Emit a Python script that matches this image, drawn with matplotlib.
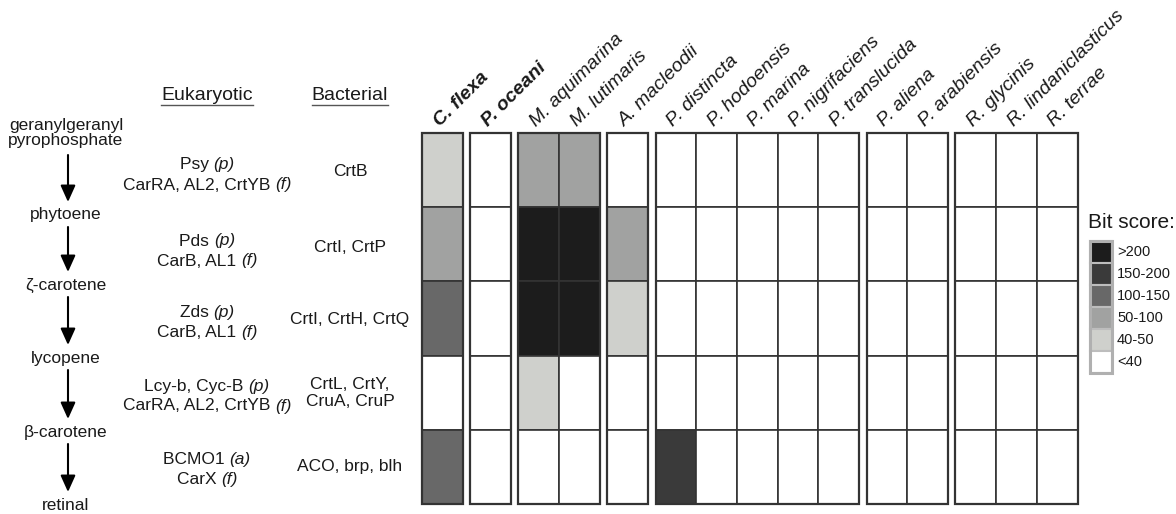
import matplotlib
matplotlib.use("Agg")
import matplotlib.pyplot as plt
from matplotlib.patches import Rectangle

plt.rcParams['font.family'] = ['Liberation Sans', 'DejaVu Sans']

# pathway compounds (top to bottom)
compounds = ["geranylgeranyl\npyrophosphate", "phytoene", "ζ-carotene",
             "lycopene", "β-carotene", "retinal"]

# enzymes for each step: (plain part, italic part)
euk_top = [("Psy ", "(p)"), ("Pds ", "(p)"), ("Zds ", "(p)"),
           ("Lcy-b, Cyc-B ", "(p)"), ("BCMO1 ", "(a)")]
euk_bottom = [("CarRA, AL2, CrtYB ", "(f)"), ("CarB, AL1 ", "(f)"),
              ("CarB, AL1 ", "(f)"), ("CarRA, AL2, CrtYB ", "(f)"),
              ("CarX ", "(f)")]
bacterial = ["CrtB", "CrtI, CrtP", "CrtI, CrtH, CrtQ", "CrtL, CrtY,\nCruA, CruP",
             "ACO, brp, blh"]

# species, grouped
species = ["C. flexa", "P. oceani", "M. aquimarina", "M. lutimaris", "A. macleodii",
           "P. distincta", "P. hodoensis", "P. marina", "P. nigrifaciens", "P. translucida",
           "P. aliena", "P. arabiensis", "R. glycinis", "R. lindaniclasticus", "R. terrae"]
group_sizes = [1, 1, 2, 1, 5, 2, 3]
bold_species = ["C. flexa", "P. oceani"]

# bit score bins (legend order) and colours
score_bins = [">200", "150-200", "100-150", "50-100", "40-50", "<40"]
bin_colors = ["#1c1c1c", "#3a3a3a", "#686868", "#a1a2a1", "#cfd0cc", "#ffffff"]

# bin index per species for each of the 5 steps
scores = {
    "C. flexa":            [4, 3, 2, 5, 2],
    "P. oceani":           [5, 5, 5, 5, 5],
    "M. aquimarina":       [3, 0, 0, 4, 5],
    "M. lutimaris":        [3, 0, 0, 5, 5],
    "A. macleodii":        [5, 3, 4, 5, 5],
    "P. distincta":        [5, 5, 5, 5, 1],
    "P. hodoensis":        [5, 5, 5, 5, 5],
    "P. marina":           [5, 5, 5, 5, 5],
    "P. nigrifaciens":     [5, 5, 5, 5, 5],
    "P. translucida":      [5, 5, 5, 5, 5],
    "P. aliena":           [5, 5, 5, 5, 5],
    "P. arabiensis":       [5, 5, 5, 5, 5],
    "R. glycinis":         [5, 5, 5, 5, 5],
    "R. lindaniclasticus": [5, 5, 5, 5, 5],
    "R. terrae":           [5, 5, 5, 5, 5],
}

# layout (pixels)
W, H = 1176, 514
grid_x0, grid_y0 = 422, 133
cell_w, cell_h, gap = 40.7, 74.2, 7.5
txt = "#1a1a1a"

fig = plt.figure(figsize=(W / 100, H / 100), dpi=100)
ax = fig.add_axes([0, 0, 1, 1])
ax.set_xlim(0, W)
ax.set_ylim(H, 0)
ax.axis("off")
renderer = fig.canvas.get_renderer()
inv = ax.transData.inverted()


def text_width(s, **kw):
    t = ax.text(0, 0, s, **kw)
    bb = t.get_window_extent(renderer)
    t.remove()
    return bb.width


def mixed_line(xc, y, plain, ital, size=12.5):
    # centred line with a plain part followed by an italic part
    w1 = text_width(plain + "|", fontsize=size) - text_width("|", fontsize=size)
    w2 = text_width(ital, fontsize=size, style="italic")
    x0 = xc - (w1 + w2) / 2
    ax.text(x0, y, plain, ha="left", va="center", fontsize=size, color=txt)
    ax.text(x0 + w1, y, ital, ha="left", va="center", fontsize=size,
            style="italic", color=txt)


# pathway column
comp_y = [133, 215, 285, 358, 432, 505]
for name, y in zip(compounds, comp_y):
    ax.text(66, y, name, ha="center", va="center", fontsize=12.5, color=txt,
            linespacing=1.05)
for i in range(len(compounds) - 1):
    start = comp_y[i] + (22 if i == 0 else 12)
    ax.annotate("", xy=(68, comp_y[i + 1] - 13), xytext=(68, start),
                arrowprops=dict(arrowstyle="-|>,head_length=1.0,head_width=0.45",
                                color="black", lw=1.5, shrinkA=0, shrinkB=0))

# headers
headers = []
headers.append(ax.text(207, 95, "Eukaryotic", ha="center", va="center", fontsize=14, color=txt))
headers.append(ax.text(350, 95, "Bacterial", ha="center", va="center", fontsize=14, color=txt))

for i in range(5):
    mid = (comp_y[i] + comp_y[i + 1]) / 2
    mixed_line(207, mid - 9, *euk_top[i])
    mixed_line(207, mid + 11, *euk_bottom[i])
    ax.text(350, mid - 2, bacterial[i], ha="center", va="center", fontsize=12.5,
            color=txt, linespacing=1.15)

# heatmap cells
col_x = []
x = grid_x0
for gs in group_sizes:
    gx = x
    for k in range(gs):
        col_x.append(x)
        x += cell_w
    ax.add_patch(Rectangle((gx, grid_y0), gs * cell_w, 5 * cell_h, fill=False,
                           edgecolor="#333333", lw=1.6, zorder=3))
    x += gap

for j, sp in enumerate(species):
    for r, b in enumerate(scores[sp]):
        ax.add_patch(Rectangle((col_x[j], grid_y0 + r * cell_h), cell_w, cell_h,
                               facecolor=bin_colors[b], edgecolor="#333333", lw=1.2,
                               zorder=2))
    cx = col_x[j] + cell_w / 2
    ax.text(cx, grid_y0 - 3, sp, rotation=45, rotation_mode="anchor",
            ha="left", va="bottom", fontsize=14, style="italic",
            weight="bold" if sp in bold_species else "normal", color=txt)

# legend
ax.text(1088, 222, "Bit score:", ha="left", va="center", fontsize=15, color=txt)
lx, ly, lw_, lh = 1090, 241, 22, 22
for k, (lab, c) in enumerate(zip(score_bins, bin_colors)):
    ax.add_patch(Rectangle((lx, ly + k * lh), lw_, lh, facecolor=c,
                           edgecolor="#bdbdbd", lw=1.5))
    ax.text(1117, ly + k * lh + lh / 2, lab, ha="left", va="center", fontsize=10.5, color=txt)
ax.add_patch(Rectangle((lx, ly), lw_, 6 * lh, fill=False, edgecolor="#b0b0b0", lw=2.2))

# underline headers
for h in headers:
    bb = h.get_window_extent(renderer)
    (x0, _), (x1, _) = inv.transform([[bb.x0, bb.y0], [bb.x1, bb.y1]])
    ax.plot([x0, x1], [105, 105], color="#555555", lw=1.0)

fig.savefig("out.png", dpi=100)
